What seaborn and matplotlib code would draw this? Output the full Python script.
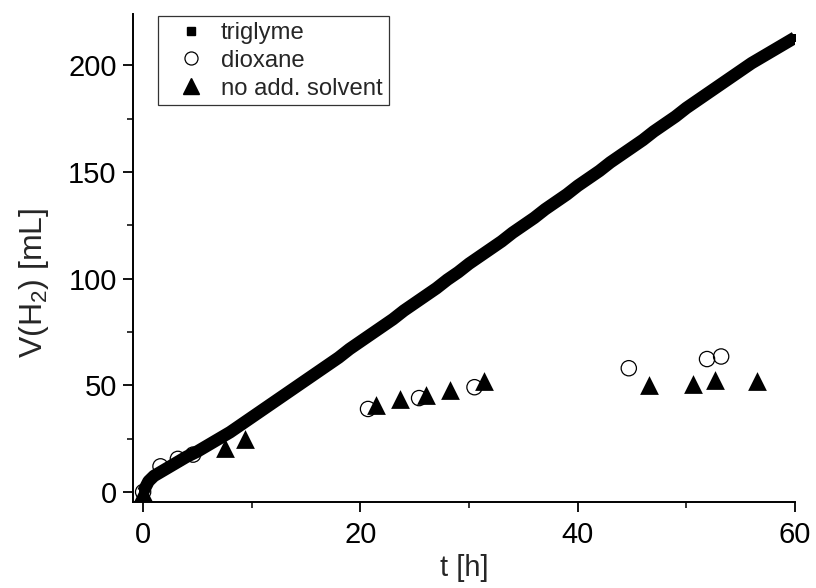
import numpy as np
import pandas as pd
import matplotlib
matplotlib.use("Agg")
import matplotlib.pyplot as plt
from matplotlib.lines import Line2D
from matplotlib.ticker import MultipleLocator
import seaborn as sns

# ---- data ----
triglyme_t = [0, 0.5, 1, 2, 3, 4, 5, 6, 7, 8, 9, 10, 11, 12, 13, 14, 15, 16, 17, 18, 19,
              20, 21, 22, 23, 24, 25, 26, 27, 28, 29, 30, 31, 32, 33, 34, 35, 36, 37, 38, 39,
              40, 41, 42, 43, 44, 45, 46, 47, 48, 49, 50, 51, 52, 53, 54, 55, 56, 57, 58, 59, 60]
triglyme_v = [0, 5, 7.5, 10.5, 13.5, 16.5, 19, 22, 25, 28, 31.5, 35, 38.5, 42, 45.5, 49, 52.5, 56, 59.5, 63, 67,
              70.5, 74, 77.5, 81, 85, 88.5, 92, 95.5, 99.5, 103, 107, 110.5, 114, 117.5, 121.5, 125, 128.5, 132.5, 136, 139.5,
              143.5, 147, 150.5, 154.5, 158, 161.5, 165, 169, 172.5, 176, 180, 183.5, 187, 190.5, 194, 197.5, 201, 204, 207, 210, 213]

dioxane_t = [0, 1.6, 3.2, 4.6, 20.7, 25.4, 30.5, 44.7, 51.9, 53.2]
dioxane_v = [0, 12, 15.5, 17.5, 38.9, 44.0, 49.1, 58.0, 62.3, 63.5]

nosolv_t = [0, 7.5, 9.4, 21.4, 23.6, 26.0, 28.2, 31.4, 46.6, 50.6, 52.6, 56.5]
nosolv_v = [0, 20.5, 24.7, 40.8, 43.8, 45.5, 47.9, 52.0, 50.0, 50.8, 52.4, 51.8]

labels = ["triglyme", "dioxane", "no add. solvent"]

# ---- style ----
sns.set_style("ticks")
plt.rcParams["font.family"] = ["Liberation Sans", "DejaVu Sans"]
plt.rcParams["mathtext.fontset"] = "custom"
plt.rcParams["mathtext.rm"] = "Liberation Sans"
plt.rcParams["mathtext.it"] = "Liberation Sans"

fig = plt.figure(figsize=(8.16, 5.88), dpi=100)
ax = fig.add_axes([0.1634, 0.1463, 0.8109, 0.8297])

df_tri = pd.DataFrame({"t": triglyme_t, "v": triglyme_v})
df_dio = pd.DataFrame({"t": dioxane_t, "v": dioxane_v})
df_ns = pd.DataFrame({"t": nosolv_t, "v": nosolv_v})

sns.scatterplot(data=df_dio, x="t", y="v", ax=ax, marker="o", s=11**2,
                facecolor="none", edgecolor="black", linewidth=0.9, zorder=3)
sns.scatterplot(data=df_ns, x="t", y="v", ax=ax, marker="^", s=13.5**2,
                color="black", edgecolor="black", linewidth=0, zorder=3)
sns.lineplot(data=df_tri, x="t", y="v", ax=ax, color="black", linewidth=9,
             marker="s", markersize=6, markeredgewidth=0, zorder=4,
             solid_capstyle="butt")

ax.set_xlim(-0.9, 60)
ax.set_ylim(-4.7, 224)
ax.xaxis.set_major_locator(MultipleLocator(20))
ax.xaxis.set_minor_locator(MultipleLocator(10))
ax.yaxis.set_major_locator(MultipleLocator(50))
ax.yaxis.set_minor_locator(MultipleLocator(25))

for side in ["top", "right"]:
    ax.spines[side].set_visible(False)
for side in ["left", "bottom"]:
    ax.spines[side].set_linewidth(1.4)
    ax.spines[side].set_color("black")

ax.tick_params(axis="both", which="major", direction="out", length=7, width=1.3,
               labelsize=21, colors="black")
ax.tick_params(axis="x", which="major", pad=7)
ax.tick_params(axis="y", which="major", pad=5)
ax.tick_params(axis="both", which="minor", direction="out", length=4, width=1.3)

ax.set_xlabel("t [h]", fontsize=21, labelpad=3)
ax.set_ylabel("V(H$_2$) [mL]", fontsize=23)
ax.yaxis.set_label_coords(-0.125, 0.45)

handles = [
    Line2D([], [], marker="s", color="black", linestyle="none", markersize=5.8),
    Line2D([], [], marker="o", markerfacecolor="none", markeredgecolor="black",
           linestyle="none", markersize=9.4, markeredgewidth=0.9),
    Line2D([], [], marker="^", color="black", linestyle="none", markersize=11),
]
leg = ax.legend(handles, labels, loc="upper left", bbox_to_anchor=(0.037, 0.996),
                fontsize=17.2, frameon=True, fancybox=False, handlelength=2.3,
                handletextpad=0.1, labelspacing=0.24, borderpad=0.25,
                borderaxespad=0.0, edgecolor="black")
leg.get_frame().set_linewidth(0.9)

fig.savefig("out.png", dpi=100)
